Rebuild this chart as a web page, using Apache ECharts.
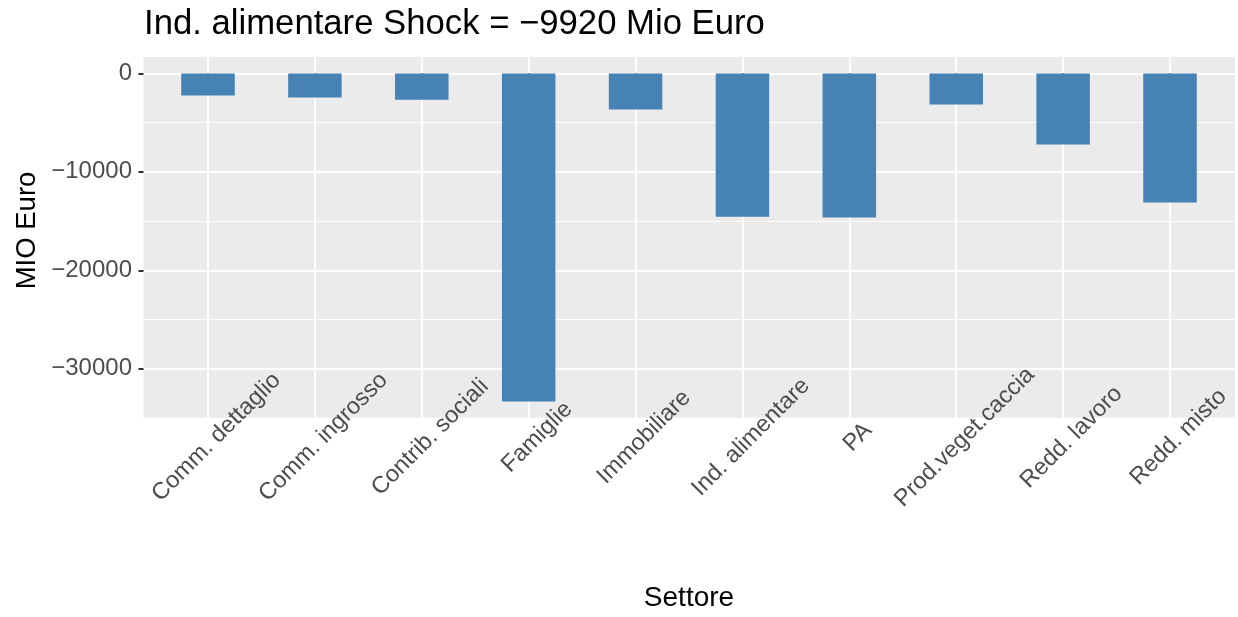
<!DOCTYPE html>
<html>
<head>
<meta charset="utf-8">
<script src="https://cdn.jsdelivr.net/npm/echarts@6/dist/echarts.min.js"></script>
<style>
  html, body { margin: 0; padding: 0; background: #fff; }
  #main { width: 1238px; height: 617px; }
</style>
</head>
<body>
<div id="main"></div>
<script>
var settori = ['Comm. dettaglio', 'Comm. ingrosso', 'Contrib. sociali', 'Famiglie', 'Immobiliare',
               'Ind. alimentare', 'PA', 'Prod.veget.caccia', 'Redd. lavoro', 'Redd. misto'];
var valori = [-2240, -2440, -2670, -33330, -3660, -14560, -14630, -3150, -7210, -13110];
var yMajor = [0, -10000, -20000, -30000];
var yMinor = [-5000, -15000, -25000];
var yMin = -34965, yMax = 1665;

var font = 'Liberation Sans, Arial, sans-serif';
var minus = function (v) { return String(v).replace('-', '\u2212'); };

var myChart = echarts.init(document.getElementById('main'));
var option = {
    animation: false,
    backgroundColor: '#ffffff',
    title: {
        text: 'Ind. alimentare Shock = \u22129920 Mio Euro',
        left: 144, top: 7, padding: 0,
        textStyle: { fontFamily: font, fontSize: 34.7, fontWeight: 'normal', color: '#000' }
    },
    grid: [
        // panel (background + horizontal grid lines)
        { left: 143.5, right: 3, top: 57, bottom: 199.3, show: true, backgroundColor: '#EBEBEB', borderWidth: 0 },
        // bar area, from first to last category centre
        { left: 208, right: 68, top: 57, bottom: 199.3 }
    ],
    xAxis: [
        { gridIndex: 0, type: 'value', min: 0, max: 1, show: false },
        {
            gridIndex: 1, type: 'category', data: settori, boundaryGap: false,
            axisLine: { show: false },
            axisTick: { show: true, length: 5, lineStyle: { color: '#333', width: 2 } },
            axisLabel: {
                interval: 0, rotate: 45, align: 'center', verticalAlign: 'top', margin: 11,
                fontFamily: font, fontSize: 23.5, color: '#4D4D4D'
            },
            splitLine: { show: true, interval: 0, lineStyle: { color: '#fff', width: 2 } }
        }
    ],
    yAxis: [
        {
            gridIndex: 0, type: 'value', min: yMin, max: yMax,
            axisLine: { show: false },
            axisTick: { show: true, length: 5, customValues: yMajor, lineStyle: { color: '#333', width: 2 } },
            axisLabel: { customValues: yMajor, margin: 11.5, fontFamily: font, fontSize: 24, color: '#4D4D4D', formatter: minus },
            splitLine: { show: true, lineStyle: { color: '#fff', width: 2 } }
        },
        {
            gridIndex: 0, type: 'value', min: yMin, max: yMax, position: 'left',
            axisLine: { show: false },
            axisTick: { show: false, customValues: yMinor },
            axisLabel: { show: false },
            splitLine: { show: true, lineStyle: { color: '#fff', width: 1 } }
        },
        { gridIndex: 1, type: 'value', min: yMin, max: yMax, show: false }
    ],
    graphic: [
        {
            type: 'text', x: 689, y: 598,
            style: { text: 'Settore', fontFamily: font, fontSize: 28, fill: '#000', textAlign: 'center', textVerticalAlign: 'middle' }
        },
        {
            type: 'text', x: 27, y: 230.5, rotation: Math.PI / 2,
            style: { text: 'MIO Euro', fontFamily: font, fontSize: 27.5, fill: '#000', textAlign: 'center', textVerticalAlign: 'middle' }
        }
    ],
    series: [
        {
            type: 'bar', xAxisIndex: 1, yAxisIndex: 2,
            data: valori, barWidth: 53.5, clip: false,
            itemStyle: { color: '#4682B4' }
        }
    ]
};
myChart.setOption(option);
</script>
</body>
</html>
